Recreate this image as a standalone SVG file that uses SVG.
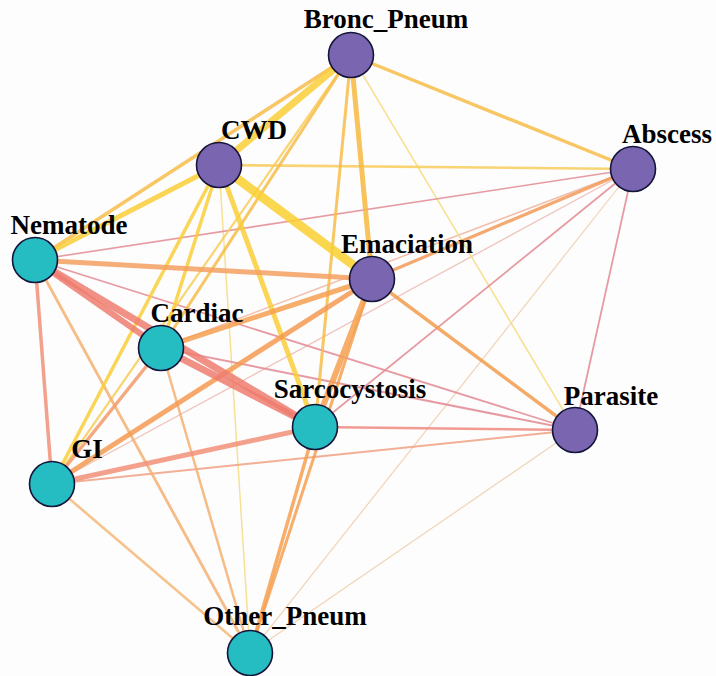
<svg xmlns="http://www.w3.org/2000/svg" width="716" height="676" viewBox="0 0 716 676">
<style>
.bg{fill:#FDFDFE}
.e line{fill:none;stroke-linecap:round;stroke-opacity:.85}
.y1{stroke:#F9CE38}
.y2{stroke:#F7BC48}
.o{stroke:#F5A050}
.r{stroke:#EE7C6E}
.s{stroke:#F19078}
.p{stroke:#E28A92}
.l{stroke:#EFCDA8}
.ly{stroke:#F6DC80}
.np{fill:#7A66B0;stroke:#15153A;stroke-width:1.6}
.nt{fill:#26BDC2;stroke:#15153A;stroke-width:1.6}
.lab{font-family:"Liberation Serif","Times New Roman",serif;font-weight:bold;font-size:27px;fill:#000;text-anchor:middle}
</style>
<rect class="bg" x="0" y="0" width="716" height="676"/>
<g id="edges" class="e">
<!-- light/thin first -->
<line class="l" x1="575" y1="430" x2="250" y2="653" stroke-width="1.2"/>
<line class="l" x1="633" y1="169" x2="250" y2="653" stroke-width="1.2"/>
<line class="l" x1="633" y1="169" x2="52" y2="484" stroke-width="1.3" style="stroke:#EDB8B0"/>
<line class="l" x1="633" y1="169" x2="161" y2="348" stroke-width="1.5" style="stroke:#EFB49C"/>
<line class="ly" x1="351" y1="55" x2="575" y2="430" stroke-width="1.6"/>
<line class="ly" x1="219" y1="165" x2="250" y2="653" stroke-width="1.5"/>
<line class="p" x1="633" y1="169" x2="35" y2="260" stroke-width="1.6"/>
<line class="p" x1="35" y1="260" x2="575" y2="430" stroke-width="1.8"/>
<line class="p" x1="161" y1="348" x2="575" y2="430" stroke-width="2"/>
<line class="p" x1="633" y1="169" x2="315" y2="427" stroke-width="1.8"/>
<line class="p" x1="633" y1="169" x2="575" y2="430" stroke-width="1.8"/>
<line class="s" x1="52" y1="484" x2="575" y2="430" stroke-width="2" style="stroke:#F1A084"/>
<line class="s" x1="315" y1="427" x2="575" y2="430" stroke-width="2.6" style="stroke:#EE8A80"/>
<line class="y2" x1="351" y1="55" x2="52" y2="484" stroke-width="2.2" style="stroke:#F8CC58"/>
<line class="y2" x1="219" y1="165" x2="633" y2="169" stroke-width="2.6" style="stroke:#F8CD5C"/>
<line class="y2" x1="351" y1="55" x2="633" y2="169" stroke-width="3.5"/>
<line class="y2" x1="351" y1="55" x2="35" y2="260" stroke-width="3.5"/>
<line class="y2" x1="351" y1="55" x2="161" y2="348" stroke-width="3"/>
<line class="y2" x1="351" y1="55" x2="315" y2="427" stroke-width="3"/>
<line class="o" x1="35" y1="260" x2="250" y2="653" stroke-width="2.8" style="stroke:#F4B070"/>
<line class="o" x1="161" y1="348" x2="250" y2="653" stroke-width="2.5" style="stroke:#F4B070"/>
<line class="o" x1="52" y1="484" x2="250" y2="653" stroke-width="2.6" style="stroke:#F5B878"/>
<line class="o" x1="372" y1="279" x2="250" y2="653" stroke-width="3"/>
<line class="o" x1="315" y1="427" x2="250" y2="653" stroke-width="3.5"/>
<line class="o" x1="372" y1="279" x2="575" y2="430" stroke-width="3.5" style="stroke:#F29C4C"/>
<line class="o" x1="633" y1="169" x2="372" y2="279" stroke-width="3.2" style="stroke:#F29A58"/>
<line class="s" x1="35" y1="260" x2="52" y2="484" stroke-width="3.5"/>
<line class="s" x1="161" y1="348" x2="52" y2="484" stroke-width="3.5" style="stroke:#F39A6A"/>
<line class="y1" x1="219" y1="165" x2="52" y2="484" stroke-width="3.5"/>
<line class="y1" x1="219" y1="165" x2="161" y2="348" stroke-width="3.5"/>
<line class="y1" x1="219" y1="165" x2="35" y2="260" stroke-width="5"/>
<line class="y1" x1="219" y1="165" x2="315" y2="427" stroke-width="5"/>
<line class="o" x1="35" y1="260" x2="372" y2="279" stroke-width="5" style="stroke:#F4A060"/>
<line class="o" x1="372" y1="279" x2="161" y2="348" stroke-width="5"/>
<line class="o" x1="372" y1="279" x2="52" y2="484" stroke-width="5" style="stroke:#F49A50"/>
<line class="o" x1="372" y1="279" x2="315" y2="427" stroke-width="6"/>
<line class="s" x1="315" y1="427" x2="52" y2="484" stroke-width="5"/>
<line class="y2" x1="351" y1="55" x2="372" y2="279" stroke-width="5" style="stroke:#F8B840"/>
<line class="y1" x1="351" y1="55" x2="219" y2="165" stroke-width="7"/>
<line class="y1" x1="219" y1="165" x2="372" y2="279" stroke-width="9" style="stroke:#F9D030"/>
<line class="r" x1="35" y1="260" x2="161" y2="348" stroke-width="6"/>
<line class="r" x1="161" y1="348" x2="315" y2="427" stroke-width="7"/>
<line class="r" x1="35" y1="260" x2="315" y2="427" stroke-width="7"/>
</g>
<g id="node-bronc-pneum"><circle class="np" cx="351" cy="55" r="22.5"/><text class="lab" x="386" y="28">Bronc_Pneum</text></g>
<g id="node-cwd"><circle class="np" cx="219" cy="165" r="22.5"/><text class="lab" x="254" y="139">CWD</text></g>
<g id="node-abscess"><circle class="np" cx="633" cy="169" r="22.5"/><text class="lab" x="667" y="143">Abscess</text></g>
<g id="node-nematode"><circle class="nt" cx="35" cy="260" r="22.5"/><text class="lab" x="69" y="234">Nematode</text></g>
<g id="node-emaciation"><circle class="np" cx="372" cy="279" r="22.5"/><text class="lab" x="407" y="253">Emaciation</text></g>
<g id="node-cardiac"><circle class="nt" cx="161" cy="348" r="22.5"/><text class="lab" x="197" y="322">Cardiac</text></g>
<g id="node-sarcocystosis"><circle class="nt" cx="315" cy="427" r="22.5"/><text class="lab" x="350" y="398">Sarcocystosis</text></g>
<g id="node-parasite"><circle class="np" cx="575" cy="430" r="22.5"/><text class="lab" x="611" y="405">Parasite</text></g>
<g id="node-gi"><circle class="nt" cx="52" cy="484" r="22.5"/><text class="lab" x="87" y="458">GI</text></g>
<g id="node-other-pneum"><circle class="nt" cx="250" cy="653" r="22.5"/><text class="lab" x="285" y="625">Other_Pneum</text></g>
</svg>
